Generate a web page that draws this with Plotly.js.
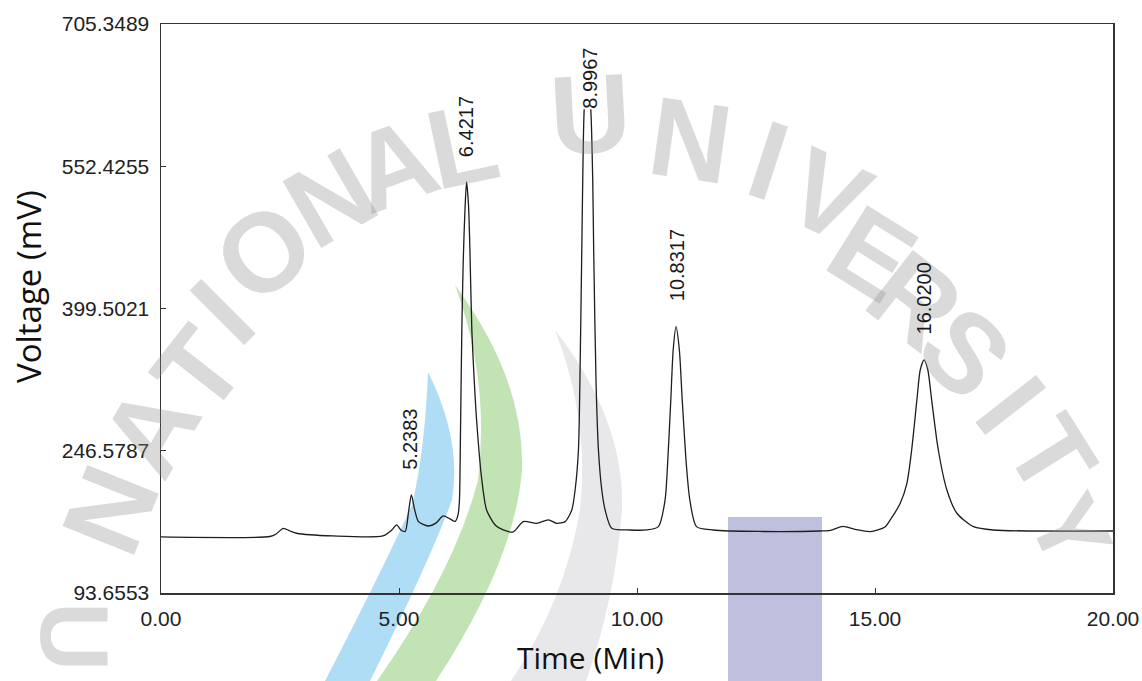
<!DOCTYPE html>
<html>
<head>
<meta charset="utf-8">
<script src="https://cdn.plot.ly/plotly-3.0.1.min.js"></script>
<style>
  html, body { margin: 0; padding: 0; background: #ffffff; }
  #chart { width: 1142px; height: 681px; }
</style>
</head>
<body>
<div id="chart"></div>
<script>
// ---------------- data ----------------
const timeMin = [0, 2.29, 2.42, 2.57, 2.71, 2.85, 3.61, 4.66, 4.85, 4.95, 5.04, 5.13, 5.20, 5.26, 5.33, 5.41, 5.61, 5.78, 5.93, 6.07, 6.18, 6.24, 6.27, 6.29, 6.32, 6.35, 6.39, 6.42, 6.46, 6.49, 6.53, 6.58, 6.63, 6.74, 6.84, 7.02, 7.19, 7.40, 7.61, 7.89, 8.14, 8.31, 8.49, 8.63, 8.70, 8.77, 8.80, 8.84, 8.86, 8.89, 8.96, 9.03, 9.07, 9.09, 9.14, 9.19, 9.26, 9.33, 9.47, 9.85, 10.20, 10.45, 10.59, 10.64, 10.71, 10.76, 10.82, 10.89, 10.95, 11.04, 11.11, 11.25, 11.60, 12.58, 13.85, 14.06, 14.33, 14.58, 14.90, 15.21, 15.32, 15.53, 15.67, 15.77, 15.88, 15.95, 16.03, 16.11, 16.19, 16.33, 16.51, 16.72, 17.07, 17.49, 20.00];
const voltageMv = [153.9, 154.4, 157.1, 163.2, 160.3, 157.9, 155.0, 155.0, 161.4, 166.8, 161.4, 159.8, 180.8, 199.1, 182.9, 170.4, 165.7, 169.0, 176.5, 173.3, 170.6, 177.6, 193.7, 258.2, 376.4, 451.7, 510.8, 535.5, 510.8, 462.4, 376.4, 322.7, 279.7, 215.2, 182.9, 166.8, 161.4, 159.3, 170.4, 168.6, 172.2, 168.6, 170.4, 182.9, 204.4, 247.4, 319.5, 462.4, 537.7, 612.9, 658.1, 612.9, 537.7, 462.4, 319.5, 247.4, 204.4, 182.9, 163.2, 161.4, 161.4, 165.0, 193.7, 229.5, 301.2, 354.9, 380.0, 354.9, 301.2, 229.5, 193.7, 165.0, 161.4, 159.8, 160.3, 160.9, 165.2, 162.0, 159.6, 164.7, 172.2, 190.1, 211.6, 247.4, 301.2, 333.4, 344.2, 333.4, 301.2, 247.4, 204.4, 179.4, 165.0, 161.4, 160.3];

const peakTimes  = [5.2383, 6.4217, 8.9967, 10.8317, 16.0200];
const peakLabels = ['5.2383', '6.4217', '8.9967', '10.8317', '16.0200'];

const xTickVals = [0, 5, 10, 15, 20];
const xTickText = ['0.00', '5.00', '10.00', '15.00', '20.00'];
const yTickVals = [93.6553, 246.5787, 399.5021, 552.4255, 705.3489];
const yTickText = ['93.6553', '246.5787', '399.5021', '552.4255', '705.3489'];

const xTitle = 'Time (Min)';
const yTitle = 'Voltage (mV)';

// ---------------- layout geometry ----------------
const W = 1142, H = 681;
const M = { l: 161, r: 29, t: 24, b: 88 };
const plotW = W - M.l - M.r, plotH = H - M.t - M.b;
const yMin = yTickVals[0], yMax = yTickVals[yTickVals.length - 1];
const mvPerPx = (yMax - yMin) / plotH;

// pixel -> paper helpers (for decoration only)
const px2x = p => (p - M.l) / plotW;
const px2y = p => (H - M.b - p) / plotH;
function pathPx(str) {
  const tok = str.trim().split(/\s+/);
  let axis = 0;
  return tok.map(t => {
    if (/^[A-Za-z]$/.test(t)) { axis = 0; return t; }
    const v = parseFloat(t);
    const out = axis === 0 ? px2x(v) : px2y(v);
    axis = 1 - axis;
    return out.toFixed(5);
  }).join(' ');
}

// ---------------- watermark (background decoration) ----------------
const bands = [
  { d: 'M 555 330 Q 625 420 622 510 Q 615 600 586 681 L 511 681 Q 565 600 580 510 Q 590 420 555 330 Z', c: 'rgb(232,232,235)' },
  { d: 'M 455 285 Q 525 380 522 470 Q 515 560 436 681 L 377 681 Q 455 570 478 480 Q 490 380 455 285 Z', c: 'rgb(194,228,180)' },
  { d: 'M 428 372 Q 462 440 452 500 Q 430 560 370 681 L 325 681 Q 380 575 412 505 Q 425 450 428 372 Z', c: 'rgb(174,221,245)' }
];
const shapes = bands.map(b => ({
  type: 'path', xref: 'paper', yref: 'paper', layer: 'below',
  path: pathPx(b.d), fillcolor: b.c, line: { width: 0 }
}));
shapes.push({
  type: 'rect', xref: 'paper', yref: 'paper', layer: 'below',
  x0: px2x(728), x1: px2x(822), y0: px2y(681), y1: px2y(517),
  fillcolor: 'rgb(191,192,222)', line: { width: 0 }
});

const wmLetters = [
  ['N', 110, 510, -68, 112], ['A', 150, 430, -60, 112], ['T', 198, 370, -52, 112], ['I', 222, 312, -45, 112],
  ['O', 263, 252, -38, 112], ['N', 330, 198, -30, 112], ['A', 393, 165, -20, 112], ['L', 462, 145, -12, 112],
  ['U', 590, 115, -3, 112], ['N', 690, 140, 8, 112], ['I', 768, 160, 18, 112], ['V', 828, 195, 25, 112],
  ['E', 872, 253, 32, 112], ['R', 915, 300, 38, 112], ['S', 965, 352, 45, 112], ['I', 1010, 405, 52, 112],
  ['T', 1052, 455, 58, 108], ['Y', 1070, 530, 65, 98],
  ['U', 75, 636, 90, 96]
];
const annotations = wmLetters.map(([ch, x, y, a, s]) => ({
  xref: 'paper', yref: 'paper', x: px2x(x), y: px2y(y),
  xanchor: 'center', yanchor: 'middle', showarrow: false,
  text: ch, textangle: a,
  font: { family: 'Liberation Sans, Arial, sans-serif', size: s,
          color: 'rgba(140,140,140,0.32)', weight: 'bold' }
}));

// ---------------- peak labels ----------------
const labelCeil = yMax - 110 * mvPerPx;   // labels cannot rise above this level
peakTimes.forEach((pt, i) => {
  let peak = -Infinity;
  timeMin.forEach((t, j) => { if (Math.abs(t - pt) < 0.2) peak = Math.max(peak, voltageMv[j]); });
  annotations.push({
    xref: 'x', yref: 'y', x: pt, y: Math.min(peak, labelCeil), yshift: 24,
    xanchor: 'center', yanchor: 'bottom', showarrow: false,
    text: peakLabels[i], textangle: -90, borderpad: 0,
    bgcolor: peak > labelCeil ? '#ffffff' : 'rgba(0,0,0,0)',
    font: { family: 'Liberation Sans, Arial, sans-serif', size: 20, color: '#1a1a1a' }
  });
});

// axis titles (placed where the original has them)
annotations.push({
  xref: 'paper', yref: 'paper', x: px2x(590), y: px2y(657),
  xanchor: 'center', yanchor: 'middle', showarrow: false,
  text: xTitle, font: { family: 'Open Sans, sans-serif', size: 30, color: '#111' }
});
annotations.push({
  xref: 'paper', yref: 'paper', x: px2x(28), y: px2y(287),
  xanchor: 'center', yanchor: 'middle', showarrow: false, textangle: -90,
  text: yTitle, font: { family: 'Open Sans, sans-serif', size: 33, color: '#111' }
});

const trace = {
  x: timeMin, y: voltageMv, type: 'scatter', mode: 'lines',
  line: { color: '#1e1e1e', width: 1.3, shape: 'spline', smoothing: 0.7 },
  hoverinfo: 'skip'
};

const axisCommon = {
  showline: true, mirror: true, linecolor: '#333', linewidth: 1.5,
  ticks: 'inside', ticklen: 5, tickcolor: '#333', tickwidth: 1,
  showgrid: false, zeroline: false,
  tickfont: { family: 'Liberation Sans, Arial, sans-serif', size: 21, color: '#222' }
};

const layout = {
  width: W, height: H, margin: M,
  paper_bgcolor: '#ffffff', plot_bgcolor: 'rgba(0,0,0,0)',
  showlegend: false,
  xaxis: Object.assign({}, axisCommon, {
    range: [0, 20], tickmode: 'array', tickvals: xTickVals, ticktext: xTickText,
    ticklabelstandoff: 6
  }),
  yaxis: Object.assign({}, axisCommon, {
    range: [yMin, yMax], tickmode: 'array', tickvals: yTickVals, ticktext: yTickText,
    ticklabelstandoff: 6
  }),
  shapes: shapes,
  annotations: annotations
};

Plotly.newPlot('chart', [trace], layout, { displayModeBar: false, staticPlot: true });
</script>
</body>
</html>
